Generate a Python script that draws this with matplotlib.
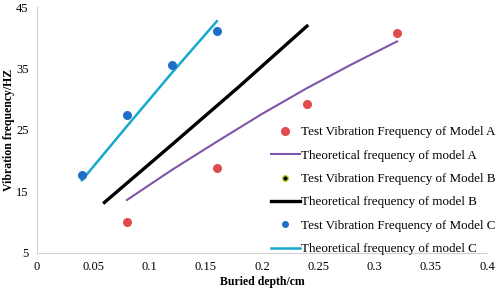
import matplotlib.pyplot as plt
from matplotlib.lines import Line2D

plt.rcParams['font.family'] = ['Liberation Serif', 'DejaVu Serif']

# test data
depth_a = [0.08, 0.16, 0.24, 0.32]
test_a = [10.1, 18.8, 29.3, 40.7]
depth_c = [0.04, 0.08, 0.12, 0.16]
test_c = [17.7, 27.5, 35.6, 41.1]

# theoretical curves
theo_depth_a = [0.08, 0.12, 0.16, 0.20, 0.24, 0.28, 0.32]
theo_a = [13.6, 18.5, 23.1, 27.6, 31.8, 35.7, 39.4]
theo_depth_b = [0.06, 0.12, 0.18, 0.24]
theo_b = [13.2, 22.6, 32.1, 41.9]
theo_depth_c = [0.04, 0.08, 0.12, 0.16]
theo_c = [16.8, 25.6, 34.3, 42.7]

xticks = [0, 0.05, 0.1, 0.15, 0.2, 0.25, 0.3, 0.35, 0.4]
xticklabels = ['0', '0.05', '0.1', '0.15', '0.2', '0.25', '0.3', '0.35', '0.4']
yticks = [5, 15, 25, 35, 45]

red = '#e04b4b'
purple = '#7f55a8'
blue = '#1f6fc6'
cyan = '#16a9cc'

fig = plt.figure(figsize=(4.98, 2.92), dpi=100)
ax = fig.add_axes([0.074, 0.134, 0.904, 0.842])

ax.scatter(depth_a, test_a, s=30, color=red, zorder=3)
ax.plot(theo_depth_a, theo_a, color=purple, lw=1.5)
ax.plot(theo_depth_b, theo_b, color='black', lw=2.4)
ax.plot(theo_depth_c, theo_c, color=cyan, lw=1.8)
ax.scatter(depth_c, test_c, s=30, color=blue, zorder=3)

ax.set_xlim(0, 0.4)
ax.set_ylim(5, 45)
ax.set_xticks(xticks)
ax.set_xticklabels(xticklabels)
ax.set_yticks(yticks)
ax.tick_params(length=0, labelsize=9, pad=6)
for s in ['top', 'right']:
    ax.spines[s].set_visible(False)
for s in ['left', 'bottom']:
    ax.spines[s].set_color('#d0d0d0')

ax.set_xlabel('Buried depth/cm', fontsize=8.5, fontweight='bold', labelpad=2)
ax.set_ylabel('Vibration frequency/HZ', fontsize=8.5, fontweight='bold', labelpad=1)

handles = [
    Line2D([], [], ls='none', marker='o', ms=5.5, color=red),
    Line2D([], [], color=purple, lw=1.5),
    Line2D([], [], ls='none', marker='o', ms=4, markerfacecolor='black', markeredgecolor='#b5d334'),
    Line2D([], [], color='black', lw=2.4),
    Line2D([], [], ls='none', marker='o', ms=4, color=blue),
    Line2D([], [], color=cyan, lw=1.8),
]
labels = ['Test Vibration Frequency of Model A', 'Theoretical frequency of model A',
          'Test Vibration Frequency of Model B', 'Theoretical frequency of model B',
          'Test Vibration Frequency of Model C', 'Theoretical frequency of model C']
ax.legend(handles, labels, loc='upper left', bbox_to_anchor=(0.52, 0.515), frameon=False,
          fontsize=9.4, handlelength=2.2, handletextpad=0.1, labelspacing=0.86,
          borderaxespad=0, borderpad=0)

fig.savefig('out.png')
